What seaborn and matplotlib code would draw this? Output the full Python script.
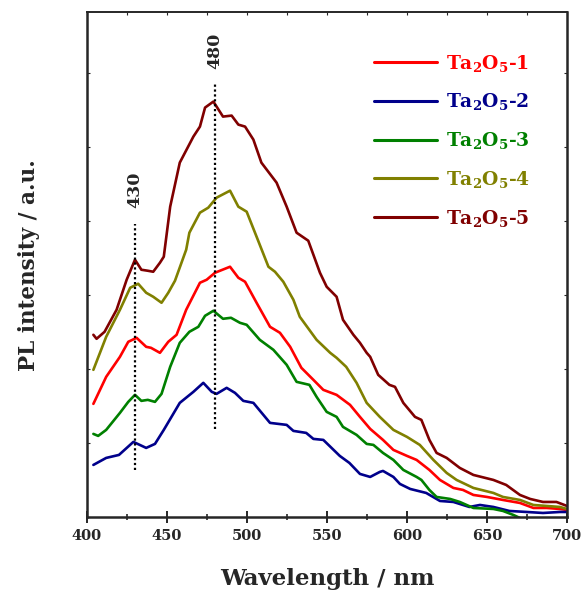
import numpy as np
import pandas as pd
import matplotlib
matplotlib.use("Agg")
import matplotlib.pyplot as plt
from matplotlib.ticker import MultipleLocator, NullFormatter
import seaborn as sns

# PL spectra of the five Ta2O5 samples (arbitrary intensity units)
wl_1 = [404, 412, 420.6, 425.8, 431, 437, 440, 445.6, 450.8, 456, 462, 470.6, 474.8, 480,
        489.4, 494.6, 498.8, 506, 514.4, 520.6, 527, 534, 541.5, 547.7, 556, 564.4, 570.6,
        577, 585, 591.5, 600, 606, 614, 620.6, 629, 635, 641.5, 650, 660, 670.6, 679, 687.3,
        695.6, 700]
pl_1 = [113, 140, 160, 175, 179, 170, 169, 164, 175, 182, 207, 234, 237, 244,
        250, 239, 235, 214, 190, 184, 170, 149, 137, 127, 122, 112, 100,
        88, 77, 67, 61, 57, 47, 37, 29, 27, 22, 20, 17, 14, 9, 9,
        8, 7]

wl_2 = [404, 412, 420, 429, 437, 442.5, 448, 458, 466.5, 472.7, 478, 481, 487.3, 492.5,
        497.7, 504, 514.4, 524.8, 529, 537, 541.5, 547.7, 558, 564, 570.6, 577, 583, 585,
        591.5, 595.6, 602, 612, 620.6, 629, 639, 645.6, 654, 664, 674.8, 685, 695.6, 700]
pl_2 = [52, 59, 62, 75, 69, 73, 87, 114, 125, 134, 125, 123, 129, 124,
        116, 114, 94, 92, 86, 84, 78, 77, 61, 54, 43, 40, 45, 46,
        40, 33, 28, 24, 16, 15, 10, 12, 10, 6, 5, 4, 5, 5]

wl_3 = [404, 407, 412, 420.6, 425.8, 430, 434, 438, 442.5, 446.6, 452, 458, 464, 469.6,
        473.8, 479, 485, 490, 495.6, 499.8, 508, 516.5, 524.8, 531, 539, 543.5, 549.8, 556,
        560, 568.5, 574.8, 579, 585, 591.5, 597.7, 606, 609, 614, 618.5, 627, 633, 641.5,
        654, 660, 666.5, 670.6, 680, 690, 700]
pl_3 = [83, 81, 87, 104, 115, 122, 116, 117, 115, 123, 150, 174, 185, 190,
        201, 206, 198, 199, 194, 192, 177, 167, 152, 135, 132, 120, 105, 100,
        90, 82, 73, 72, 64, 57, 47, 40, 37, 27, 20, 18, 15, 9,
        8, 6, 2, -1, -10, -20, -30]

wl_4 = [404, 412, 420.6, 427, 432, 437, 441.4, 446.6, 450.8, 455, 462, 464, 470.6, 475.8,
        481, 489.4, 494.6, 499.8, 506, 513.4, 517.5, 522.7, 529, 533, 543.5, 552, 556, 562,
        568.5, 574.8, 583, 591.5, 600, 608, 616.5, 624.8, 631, 641.5, 654, 660, 670.6, 679,
        687.3, 695.6, 700]
pl_4 = [147, 180, 207, 229, 233, 224, 220, 214, 224, 236, 267, 284, 304, 309,
        319, 326, 310, 305, 280, 250, 245, 235, 217, 200, 177, 164, 159, 150,
        134, 114, 100, 87, 80, 72, 57, 44, 37, 29, 24, 20, 17, 12,
        11, 10, 8]

wl_5 = [404, 406, 411, 418.5, 424.8, 430, 434, 438, 441.4, 445.6, 448, 452, 458, 466.5,
        470.6, 473.8, 479, 485, 490.4, 494.6, 498.8, 504, 509, 518.5, 524.8, 531, 538.3,
        541.5, 545.6, 549.8, 556, 560, 566.5, 570.6, 574.8, 577, 582, 589, 592.5, 597.7,
        605, 609, 614, 618.5, 624.8, 633, 641.5, 654, 662, 670.6, 677, 685, 693.4, 700]
pl_5 = [182, 178, 185, 207, 237, 257, 247, 246, 245, 254, 260, 310, 354, 380,
        390, 409, 415, 400, 401, 392, 390, 377, 354, 334, 310, 284, 276,
        262, 244, 230, 220, 197, 182, 174, 164, 160, 142, 132, 130, 114,
        100, 97, 77, 64, 59, 49, 42, 37, 32, 22, 18, 15, 15, 11]

samples = ["Ta$_2$O$_5$-1", "Ta$_2$O$_5$-2", "Ta$_2$O$_5$-3", "Ta$_2$O$_5$-4", "Ta$_2$O$_5$-5"]
colors = ["#FF0000", "#00008B", "#008000", "#808000", "#800000"]

# peak markers: position, dotted line span, label height
peak_pos = [430, 480]
peak_span = [(47, 293), (88, 434)]
peak_label_y = [327, 466]

x_ticks = [400, 450, 500, 550, 600, 650, 700]

frames = []
for name, wl, pl in zip(samples, [wl_1, wl_2, wl_3, wl_4, wl_5],
                        [pl_1, pl_2, pl_3, pl_4, pl_5]):
    frames.append(pd.DataFrame({"wavelength": wl, "intensity": pl, "sample": name}))
df = pd.concat(frames, ignore_index=True)

sns.set_style("ticks")
plt.rcParams["font.family"] = ["DejaVu Serif"]
plt.rcParams["font.weight"] = "bold"
plt.rcParams["mathtext.fontset"] = "dejavuserif"
plt.rcParams["mathtext.default"] = "bf"

fig = plt.figure(figsize=(5.81, 5.98), dpi=100)
ax = fig.add_axes([0.1497, 0.1355, 0.8262, 0.8436])

sns.lineplot(data=df, x="wavelength", y="intensity", hue="sample",
             hue_order=samples, palette=colors, estimator=None, sort=False,
             linewidth=1.9, ax=ax)

for pos, (y0, y1), ly in zip(peak_pos, peak_span, peak_label_y):
    ax.plot([pos, pos], [y0, y1], color="black", linestyle=(0, (1, 1.2)), linewidth=1.6)
    ax.text(pos, ly, str(pos), rotation=90, ha="center", va="center",
            fontsize=12.5, fontweight="bold")

ax.set_xlim(400, 700)
ax.set_ylim(0, 504)
ax.set_xticks(x_ticks)
ax.xaxis.set_minor_locator(MultipleLocator(25))
ax.yaxis.set_major_locator(MultipleLocator(74))
ax.yaxis.set_major_formatter(NullFormatter())

ax.tick_params(axis="x", which="major", direction="inout", length=9, width=1.4,
               labelsize=10.5, pad=4, top=False)
ax.tick_params(axis="x", which="minor", direction="inout", length=5, width=1.2, top=False)
ax.tick_params(axis="y", which="major", direction="in", length=2, width=0.8,
               left=True, right=True)

# small inward ticks along the top edge
sec = ax.secondary_xaxis("top")
sec.set_xticks(list(range(400, 701, 25)))
sec.tick_params(direction="in", length=2, width=0.8, labeltop=False)
sec.spines["top"].set_linewidth(1.2)

for s in ["left", "bottom", "right"]:
    ax.spines[s].set_linewidth(1.8)
ax.spines["top"].set_linewidth(1.2)

ax.set_xlabel("Wavelength / nm", fontsize=16.5, fontweight="bold", labelpad=18)
ax.set_ylabel("PL intensity / a.u.", fontsize=15.5, fontweight="bold", labelpad=30)

leg = ax.legend(loc="upper right", bbox_to_anchor=(0.958, 0.954), frameon=False,
                fontsize=13.5, handlelength=3.4, handletextpad=0.45, labelspacing=0.95)
for line, text, c in zip(leg.get_lines(), leg.get_texts(), colors):
    text.set_color(c)
    line.set_linewidth(2.2)

fig.savefig("out.png", dpi=100)
